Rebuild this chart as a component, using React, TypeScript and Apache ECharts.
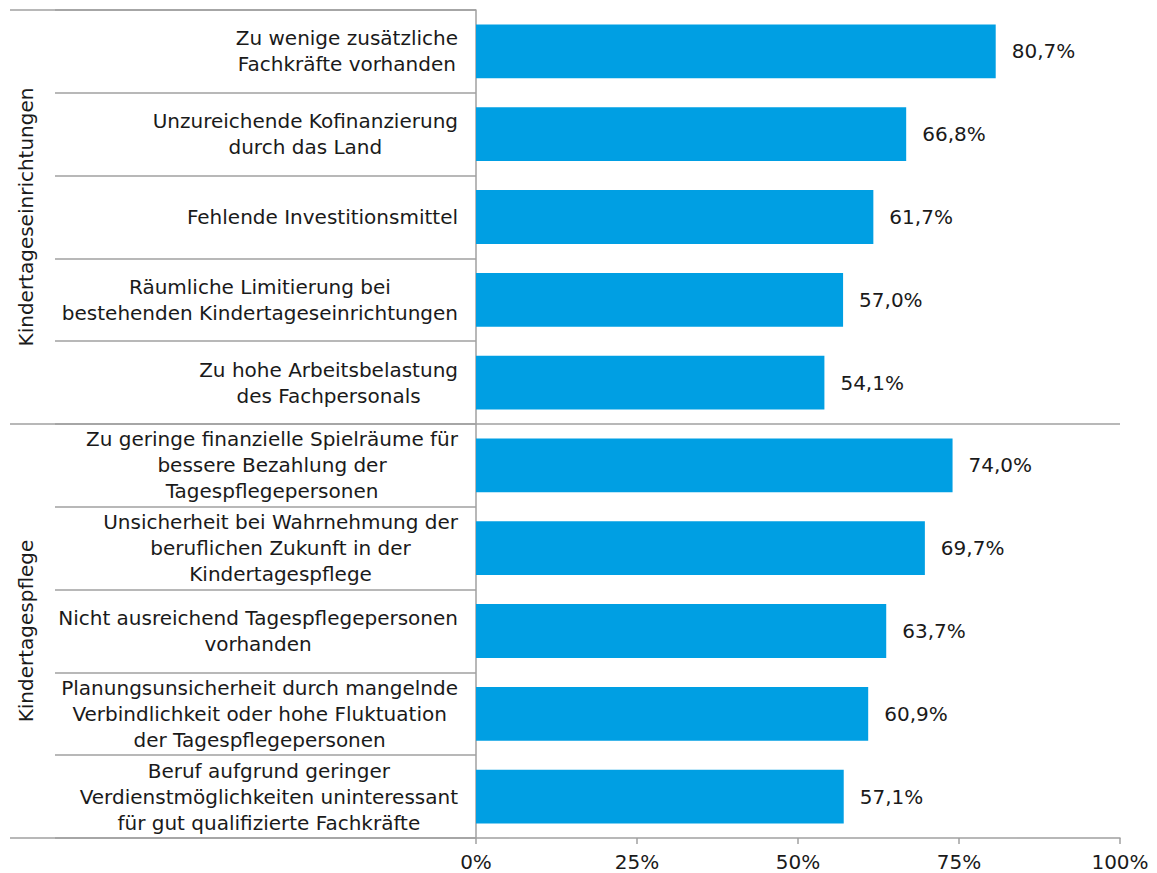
import React, { useEffect, useRef } from "react";
import * as echarts from "echarts";

const categories: string[] = [
  "Zu wenige zusätzliche\nFachkräfte vorhanden",
  "Unzureichende Kofinanzierung\ndurch das Land",
  "Fehlende Investitionsmittel",
  "Räumliche Limitierung bei\nbestehenden Kindertageseinrichtungen",
  "Zu hohe Arbeitsbelastung\ndes Fachpersonals",
  "Zu geringe finanzielle Spielräume für\nbessere Bezahlung der\nTagespflegepersonen",
  "Unsicherheit bei Wahrnehmung der\nberuflichen Zukunft in der\nKindertagespflege",
  "Nicht ausreichend Tagespflegepersonen\nvorhanden",
  "Planungsunsicherheit durch mangelnde\nVerbindlichkeit oder hohe Fluktuation\nder Tagespflegepersonen",
  "Beruf aufgrund geringer\nVerdienstmöglichkeiten uninteressant\nfür gut qualifizierte Fachkräfte",
];
const values: number[] = [80.7, 66.8, 61.7, 57.0, 54.1, 74.0, 69.7, 63.7, 60.9, 57.1];
const groups: string[] = ["Kindertageseinrichtungen", "Kindertagespflege"];
const xTicks: number[] = [0, 25, 50, 75, 100];

const FONT = "DejaVu Sans, Verdana, sans-serif";
const TEXT = "#1a1a1a";
const LINE = "#a0a0a0";
const BAR = "#009fe3";

export default function App() {
  const ref = useRef<HTMLDivElement>(null);
  useEffect(() => {
    document.body.style.margin = "0";
    if (!ref.current) return;
    const chart = echarts.init(ref.current, undefined, { renderer: "svg" });
    const W = 1157, H = 873;
    const gLeft = 476, gRight = 37, gTop = 10, gBottom = 35;
    const plotBottom = H - gBottom;
    const mid = (gTop + plotBottom) / 2;
    chart.setOption({
      animation: false,
      textStyle: { fontFamily: FONT, color: TEXT },
      grid: { left: gLeft, right: gRight, top: gTop, bottom: gBottom, containLabel: false },
      xAxis: {
        type: "value",
        min: xTicks[0],
        max: xTicks[xTicks.length - 1],
        interval: 25,
        axisLine: { show: true, lineStyle: { color: LINE, width: 1.5 } },
        axisTick: { show: true, length: 6, lineStyle: { color: LINE, width: 1.5 } },
        splitLine: { show: false },
        axisLabel: {
          formatter: "{value}%",
          fontSize: 20,
          fontFamily: FONT,
          color: TEXT,
          margin: 14,
        },
      },
      yAxis: {
        type: "category",
        data: categories,
        inverse: true,
        axisLine: { show: true, lineStyle: { color: LINE, width: 1.5 } },
        axisTick: { show: true, length: 421, lineStyle: { color: LINE, width: 1.5 } },
        splitLine: { show: false },
        axisLabel: {
          align: "right",
          margin: 18,
          formatter: (v: string) =>
            v.split("\n").map((l) => `{c|${l}}`).join("\n"),
          rich: {
            c: { align: "center", fontSize: 20, lineHeight: 26, fontFamily: FONT, color: TEXT },
          },
        },
      },
      series: [
        {
          type: "bar",
          data: values,
          barCategoryGap: "35%",
          itemStyle: { color: BAR },
          label: {
            show: true,
            position: "right",
            distance: 16,
            fontSize: 20,
            fontFamily: FONT,
            color: TEXT,
            formatter: (p: any) => p.value.toFixed(1).replace(".", ",") + "%",
          },
        },
      ],
      graphic: [
        { type: "line", shape: { x1: 10, y1: gTop, x2: gLeft, y2: gTop }, style: { stroke: LINE, lineWidth: 1.5 } },
        { type: "line", shape: { x1: 10, y1: mid, x2: W - gRight, y2: mid }, style: { stroke: LINE, lineWidth: 1.5 } },
        { type: "line", shape: { x1: 10, y1: plotBottom, x2: gLeft, y2: plotBottom }, style: { stroke: LINE, lineWidth: 1.5 } },
        {
          type: "text",
          x: 26,
          y: (gTop + mid) / 2,
          rotation: Math.PI / 2,
          style: { text: groups[0], fontSize: 20, fontFamily: FONT, fill: TEXT, align: "center", verticalAlign: "middle" },
        },
        {
          type: "text",
          x: 26,
          y: (mid + plotBottom) / 2,
          rotation: Math.PI / 2,
          style: { text: groups[1], fontSize: 20, fontFamily: FONT, fill: TEXT, align: "center", verticalAlign: "middle" },
        },
      ],
    });
    return () => chart.dispose();
  }, []);
  return <div ref={ref} style={{ width: 1157, height: 873 }} />;
}
